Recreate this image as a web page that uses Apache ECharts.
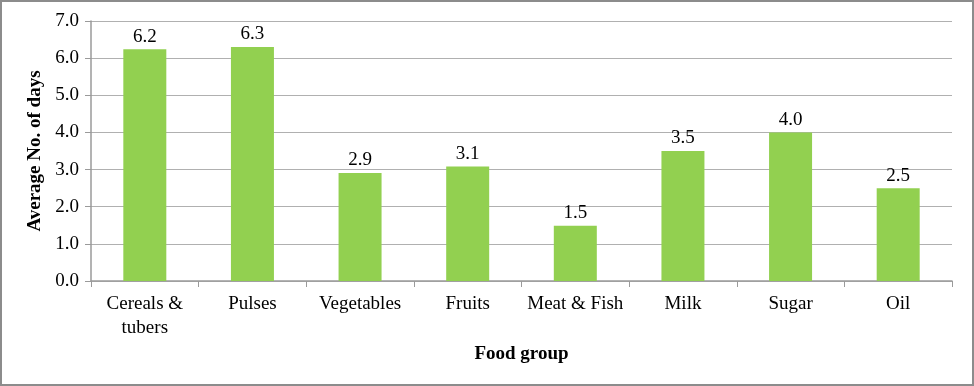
<!DOCTYPE html>
<html><head><meta charset="utf-8">
<script src="https://cdn.jsdelivr.net/npm/echarts@6/dist/echarts.min.js"></script>
<style>html,body{margin:0;padding:0;background:#fff}#c{width:974px;height:386px;box-sizing:border-box;border:2px solid #8c8c8c}</style>
</head><body><div id="c"></div>
<script>
const categories = ['Cereals &\ntubers','Pulses','Vegetables','Fruits','Meat & Fish','Milk','Sugar','Oil'];
const values = [6.24, 6.3, 2.91, 3.08, 1.49, 3.5, 4.0, 2.5];
const yTicks = {min:0, max:7, interval:1};
const font = '"Liberation Serif","Times New Roman",serif';
const chart = echarts.init(document.getElementById('c'));
chart.setOption({
  animation:false,
  grid:{left:89, right:20, top:19, bottom:103, containLabel:false},
  xAxis:{type:'category', data:categories,
    name:'Food group', nameLocation:'middle', nameGap:62,
    nameTextStyle:{fontFamily:font, fontWeight:'bold', fontSize:19, color:'#000'},
    axisLine:{lineStyle:{color:'#9a9a9a', width:1.5}},
    axisTick:{show:true, length:6, lineStyle:{color:'#9a9a9a'}},
    axisLabel:{interval:0, fontFamily:font, fontSize:19, color:'#000', margin:11, lineHeight:24}
  },
  yAxis:{type:'value', min:yTicks.min, max:yTicks.max, interval:yTicks.interval,
    name:'Average No. of days', nameLocation:'middle', nameGap:39,
    nameTextStyle:{fontFamily:font, fontWeight:'bold', fontSize:19, color:'#000'},
    axisLine:{show:true, lineStyle:{color:'#9a9a9a', width:1.5}},
    axisTick:{show:true, length:6, lineStyle:{color:'#9a9a9a'}},
    splitLine:{lineStyle:{color:'#b0b0b0', width:1.2}},
    axisLabel:{fontFamily:font, fontSize:19, color:'#000', margin:12, formatter:v=>v.toFixed(1)}
  },
  series:[{type:'bar', data:values, barWidth:43,
    itemStyle:{color:'#92D050'},
    label:{show:true, position:'top', distance:3, fontFamily:font, fontSize:19, color:'#000',
      formatter:p=>p.value.toFixed(1)}
  }]
});
</script></body></html>
